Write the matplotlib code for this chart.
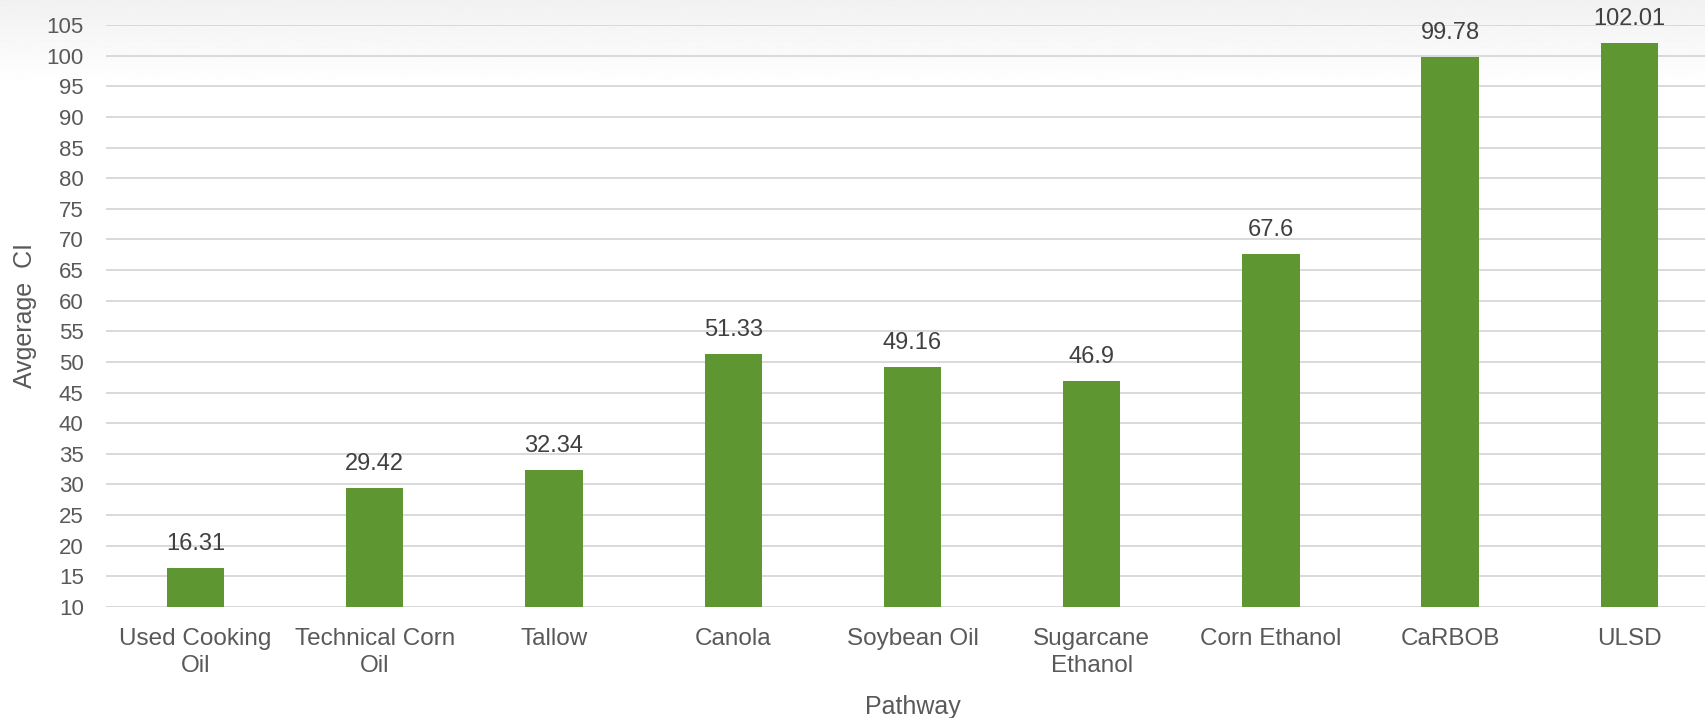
import matplotlib.pyplot as plt
import numpy as np

pathways = ["Used Cooking\nOil", "Technical Corn\nOil", "Tallow", "Canola", "Soybean Oil",
            "Sugarcane\nEthanol", "Corn Ethanol", "CaRBOB", "ULSD"]
avg_ci = [16.31, 29.42, 32.34, 51.33, 49.16, 46.9, 67.6, 99.78, 102.01]
value_labels = ["16.31", "29.42", "32.34", "51.33", "49.16", "46.9", "67.6", "99.78", "102.01"]
y_ticks = list(range(10, 106, 5))

text_color = "#595959"
bar_color = "#5E9732"
grid_color = "#D9D9D9"

plt.rcParams['font.family'] = ['Liberation Sans', 'DejaVu Sans']

fig = plt.figure(figsize=(17.06, 7.18), dpi=100)

# faint grey band fading into white along the top edge
bg = fig.add_axes([0, 0.88, 1, 0.12], zorder=-5)
shade = np.linspace(0.945, 1.0, 100).reshape(-1, 1)
bg.imshow(np.repeat(shade, 2, axis=1), cmap="gray", vmin=0, vmax=1, aspect="auto",
          extent=[0, 1, 0, 1], origin="upper")
bg.axis("off")

ax = fig.add_axes([0.0621, 0.1546, 1.0076 - 0.0621, 0.8106])
ax.patch.set_alpha(0)

x = np.arange(len(pathways))
bars = ax.bar(x, np.array(avg_ci) - 10, bottom=10, width=0.32, color=bar_color, zorder=3)

for xi, v, lab in zip(x, avg_ci, value_labels):
    ax.annotate(lab, (xi, v), xytext=(0, 9.5), textcoords="offset points",
                ha="center", va="bottom", fontsize=17, color="#404040")

ax.set_xlim(-0.5, len(pathways) - 0.5)
ax.set_ylim(10, 105)
ax.set_yticks(y_ticks)
ax.set_xticks(x)
ax.set_xticklabels(pathways, linespacing=1.3)
ax.yaxis.grid(True, color=grid_color, linewidth=1.4, zorder=0)
ax.set_axisbelow(True)
for s in ax.spines.values():
    s.set_visible(False)
ax.tick_params(axis="y", length=0, pad=16, labelsize=16, labelcolor=text_color)
ax.tick_params(axis="x", length=0, pad=15, labelsize=17.5, labelcolor=text_color)

ax.set_xlabel("Pathway", fontsize=18, color=text_color, labelpad=13)
ax.set_ylabel("Avgerage  CI", fontsize=18, color=text_color, labelpad=7)

plt.savefig("out.png", dpi=100)
